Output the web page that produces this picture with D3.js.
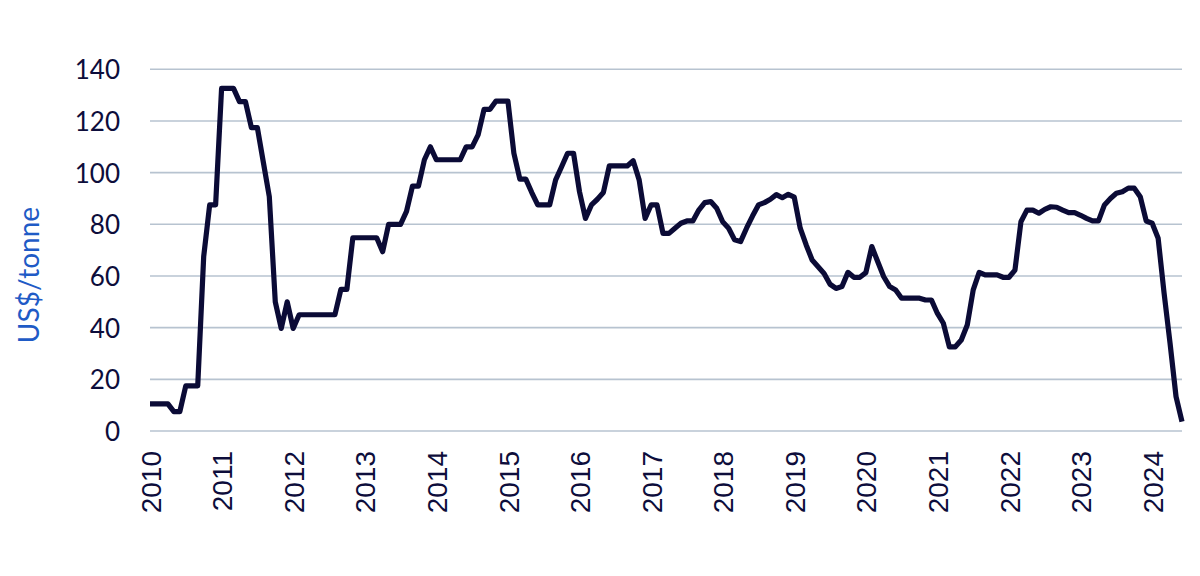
<!DOCTYPE html>
<html>
<head>
<meta charset="utf-8">
<script src="https://cdn.jsdelivr.net/npm/d3@7/dist/d3.min.js"></script>
<style>
  html, body { margin: 0; padding: 0; background: #ffffff; }
  svg { display: block; }
</style>
</head>
<body>
<svg id="chart" width="1200" height="576"></svg>
<script>
// Monthly prices, Jan 2010 – Jun 2024 (US$/tonne)
const yearLabels = ["2010","2011","2012","2013","2014","2015","2016","2017","2018","2019","2020","2021","2022","2023","2024"];
const yTicks = [0, 20, 40, 60, 80, 100, 120, 140];
const values2010 = [10.5,10.5,10.5,10.5,7.5,7.5,17.5,17.5,17.5,67.5,87.5,87.5];
const values2011 = [132.6,132.6,132.6,127.5,127.5,117.4,117.4,104,90.7,50,39.7,50];
const values2012 = [39.7,45,45,45,45,45,45,45,54.8,54.8,74.8,74.8];
const values2013 = [74.8,74.8,74.8,69.4,80,80,80,85,94.8,94.8,105,110];
const values2014 = [105,105,105,105,105,110,110,114.6,124.5,124.5,127.7,127.7];
const values2015 = [127.7,107.5,97.5,97.5,92.3,87.5,87.5,87.5,97.2,102.3,107.5,107.5];
const values2016 = [92.6,82.3,87.5,89.7,92.3,102.6,102.6,102.6,102.6,104.6,97.2,82.3];
const values2017 = [87.5,87.5,76.5,76.5,78.5,80.4,81.3,81.3,85.5,88.4,88.8,86.2];
const values2018 = [81,78.5,74,73.3,78.5,83.2,87.5,88.4,89.7,91.5,90.3,91.6];
const values2019 = [90.5,78.5,72,66.2,63.6,61,56.8,55.2,55.9,61.4,59.5,59.5];
const values2020 = [61.3,71.4,65.5,59.7,55.9,54.6,51.4,51.4,51.4,51.4,50.7,50.7];
const values2021 = [45.5,41.7,32.6,32.6,35.2,41,54.6,61.4,60.4,60.4,60.4,59.5];
const values2022 = [59.5,62.3,81,85.5,85.5,84.3,85.8,86.8,86.6,85.5,84.5,84.5];
const values2023 = [83.5,82.3,81.3,81.3,87.5,90,92,92.6,94,94,90.7,81.3];
const values2024 = [80.4,74.6,53.3,33.9,13.3,3.6];

const values = [].concat(values2010, values2011, values2012, values2013, values2014,
  values2015, values2016, values2017, values2018, values2019, values2020,
  values2021, values2022, values2023, values2024);

const svg = d3.select("#chart");
const plotLeft = 150, plotRight = 1182, plotTop = 69.3, plotBottom = 431;

const x = d3.scaleLinear().domain([0, values.length - 1]).range([plotLeft, plotRight]);
const y = d3.scaleLinear().domain([0, 140]).range([plotBottom, plotTop]);

// gridlines
svg.append("g")
  .selectAll("line")
  .data(yTicks)
  .join("line")
  .attr("x1", plotLeft).attr("x2", plotRight)
  .attr("y1", d => y(d)).attr("y2", d => y(d))
  .attr("stroke", "#b7c3d0")
  .attr("stroke-width", 1.6);

// y axis labels
const yAxis = d3.axisLeft(y).tickValues(yTicks).tickSize(0).tickPadding(0);
const gy = svg.append("g").attr("transform", `translate(${plotLeft - 30},0)`).call(yAxis);
gy.select(".domain").remove();
gy.selectAll("text")
  .attr("font-family", "Lato, 'Open Sans', sans-serif")
  .attr("font-size", 26)
  .attr("fill", "#0d0d3b")
  .attr("dy", "0.36em");

// x axis labels
const xAxis = d3.axisBottom(x)
  .tickValues(yearLabels.map((d, i) => i * 12))
  .tickFormat((d) => yearLabels[d / 12])
  .tickSize(0).tickPadding(0);
const gx = svg.append("g").attr("transform", `translate(0,${plotBottom})`).call(xAxis);
gx.select(".domain").remove();
gx.selectAll("text")
  .attr("font-family", "'Liberation Sans', Arial, sans-serif")
  .attr("font-size", 28)
  .attr("fill", "#0d0d3b")
  .attr("text-anchor", "end")
  .attr("transform", "rotate(-90)")
  .attr("x", -20)
  .attr("y", 0)
  .attr("dy", "0.36em");

// y axis title
svg.append("text")
  .attr("transform", "translate(39,275) rotate(-90)")
  .attr("text-anchor", "middle")
  .attr("font-family", "Lato, 'Open Sans', sans-serif")
  .attr("font-size", 28)
  .attr("fill", "#1f5bc6")
  .text("US$/tonne");

// line
const line = d3.line().x((d, i) => x(i)).y(d => y(d));
svg.append("path")
  .datum(values)
  .attr("d", line)
  .attr("fill", "none")
  .attr("stroke", "#0b0b36")
  .attr("stroke-width", 5.2)
  .attr("stroke-linejoin", "round")
  .attr("stroke-linecap", "butt");
</script>
</body>
</html>
